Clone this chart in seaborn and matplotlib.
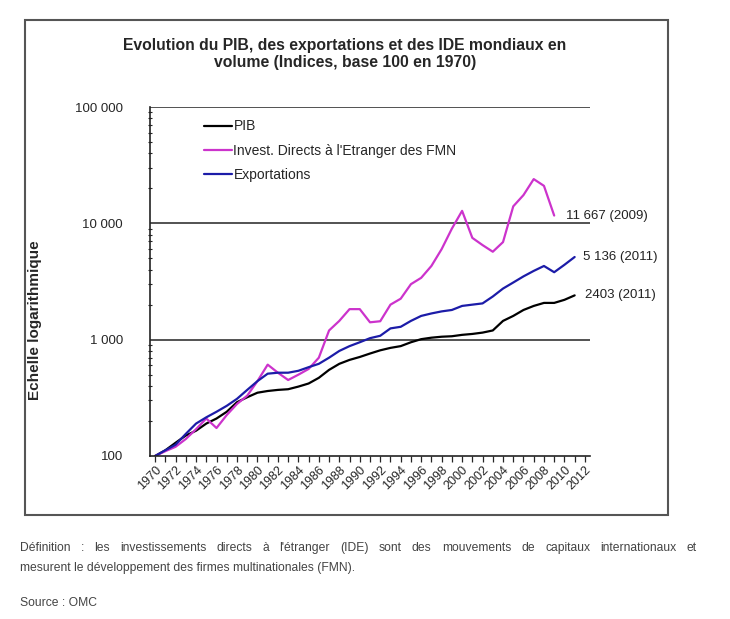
import pandas as pd
import numpy as np
import matplotlib
matplotlib.use("Agg")
import matplotlib.pyplot as plt
import matplotlib.ticker as mticker
from matplotlib.patches import Rectangle
import seaborn as sns

years = list(range(1970, 2012))

pib = [100, 112, 130, 150, 165, 190, 210, 240, 290, 320,
       350, 362, 370, 375, 395, 420, 470, 550, 620, 670,
       710, 760, 810, 850, 880, 950, 1010, 1040, 1060, 1070,
       1100, 1120, 1150, 1200, 1450, 1600, 1800, 1950, 2070, 2070,
       2200, 2403]

ide = [100, 110, 120, 140, 170, 210, 174, 225, 280, 330,
       440, 610, 520, 450, 500, 560, 700, 1200, 1450, 1830,
       1830, 1410, 1440, 2000, 2250, 3000, 3400, 4300, 6000, 9000,
       12800, 7500, 6500, 5700, 6900, 14000, 17500, 24000, 21000, 11667]

exports = [100, 112, 125, 155, 190, 215, 240, 270, 310, 370,
           440, 510, 520, 520, 540, 580, 620, 700, 800, 880,
           950, 1030, 1080, 1250, 1290, 1450, 1600, 1680, 1750, 1800,
           1950, 2000, 2050, 2350, 2750, 3100, 3500, 3900, 4300, 3800,
           4400, 5136]

series_names = ["PIB", "Invest. Directs à l'Etranger des FMN", "Exportations"]
colors = ["#000000", "#cc33cc", "#1c1ca8"]

annotations = [("11 667 (2009)", 2009, 11667, 12),
               ("5 136 (2011)", 2011, 5136, 8),
               ("2403 (2011)", 2011, 2403, 10)]

df = pd.concat([
    pd.DataFrame({"annee": years, "valeur": pib, "serie": series_names[0]}),
    pd.DataFrame({"annee": years[:len(ide)], "valeur": ide, "serie": series_names[1]}),
    pd.DataFrame({"annee": years, "valeur": exports, "serie": series_names[2]}),
])

sns.set_style("white")
plt.rcParams["font.family"] = ["Liberation Sans", "DejaVu Sans"]

fig = plt.figure(figsize=(7.3, 6.19), dpi=100)
ax = fig.add_axes([150 / 730, 1 - 456 / 619, 440 / 730, 349 / 619])

sns.lineplot(data=df, x="annee", y="valeur", hue="serie", hue_order=series_names,
             palette=colors, linewidth=1.6, ax=ax)

ax.set_yscale("log")
ax.set_ylim(100, 100000)
ax.set_xlim(1969.5, 2012.5)

ax.yaxis.set_major_locator(mticker.FixedLocator([100, 1000, 10000, 100000]))
ax.yaxis.set_major_formatter(mticker.FuncFormatter(lambda v, p: f"{int(v):,}".replace(",", " ")))
ax.yaxis.set_minor_locator(mticker.LogLocator(base=10, subs=np.arange(2, 10)))
ax.yaxis.set_minor_formatter(mticker.NullFormatter())
ax.tick_params(axis="y", which="major", length=0, pad=19.5, labelsize=9.5)
ax.tick_params(axis="y", which="minor", length=3, direction="inout", width=0.8, left=True)

ax.set_xticks(np.arange(1970, 2013, 1), minor=True)
ax.set_xticks(np.arange(1970, 2013, 2))
ax.tick_params(axis="x", which="both", direction="out", length=4, width=0.9, bottom=True)
ax.tick_params(axis="x", which="major", labelsize=9, pad=2)
for lab in ax.get_xticklabels():
    lab.set_rotation(45)
    lab.set_ha("right")
    lab.set_rotation_mode("anchor")

for v in [1000, 10000, 100000]:
    ax.axhline(v, color="#444444", linewidth=1.3, zorder=0)

for side in ["top", "right"]:
    ax.spines[side].set_visible(False)
for side in ["left", "bottom"]:
    ax.spines[side].set_color("#222222")
    ax.spines[side].set_linewidth(1.2)

ax.set_xlabel("")
ax.set_ylabel("")
fig.text(35 / 730, 1 - 400 / 619, "Echelle logarithmique", rotation=90,
         ha="center", va="bottom", fontsize=11, fontweight="bold")

leg = ax.legend(loc="upper left", bbox_to_anchor=(0.095, 1.0), frameon=False,
                fontsize=10, handlelength=2.0, handletextpad=0.1, labelspacing=0.75)

for txt, x, y, off in annotations:
    ax.annotate(txt, xy=(x, y), xytext=(off, 0), textcoords="offset pixels",
                ha="left", va="center", fontsize=9.5, color="#222222")

fig.text(345 / 730, 1 - 54 / 619,
         "Evolution du PIB, des exportations et des IDE mondiaux en\nvolume (Indices, base 100 en 1970)",
         ha="center", va="center", fontsize=11.3, fontweight="bold", linespacing=1.2)

fig.patches.append(Rectangle((25 / 730, 1 - 515 / 619), 643 / 730, 495 / 619,
                             transform=fig.transFigure, fill=False,
                             edgecolor="#555555", linewidth=1.5))

# definition text, first line justified
grey = "#444444"
line1 = "Définition : les investissements directs à l'étranger (IDE) sont des mouvements de capitaux internationaux et"
words = line1.split(" ")
renderer = fig.canvas.get_renderer()
texts = [fig.text(0, 1 - 548 / 619, w, fontsize=8.7, color=grey, va="center") for w in words]
widths = [t.get_window_extent(renderer).width for t in texts]
x0, x1 = 20, 697
gap = (x1 - x0 - sum(widths)) / (len(words) - 1)
pos = x0
for t, w in zip(texts, widths):
    t.set_x(pos / 730)
    pos += w + gap

fig.text(20 / 730, 1 - 568 / 619, "mesurent le développement des firmes multinationales (FMN).",
         fontsize=8.7, color=grey, va="center")
fig.text(20 / 730, 1 - 603 / 619, "Source : OMC", fontsize=8.7, color=grey, va="center")

fig.savefig("out.png", dpi=100)
